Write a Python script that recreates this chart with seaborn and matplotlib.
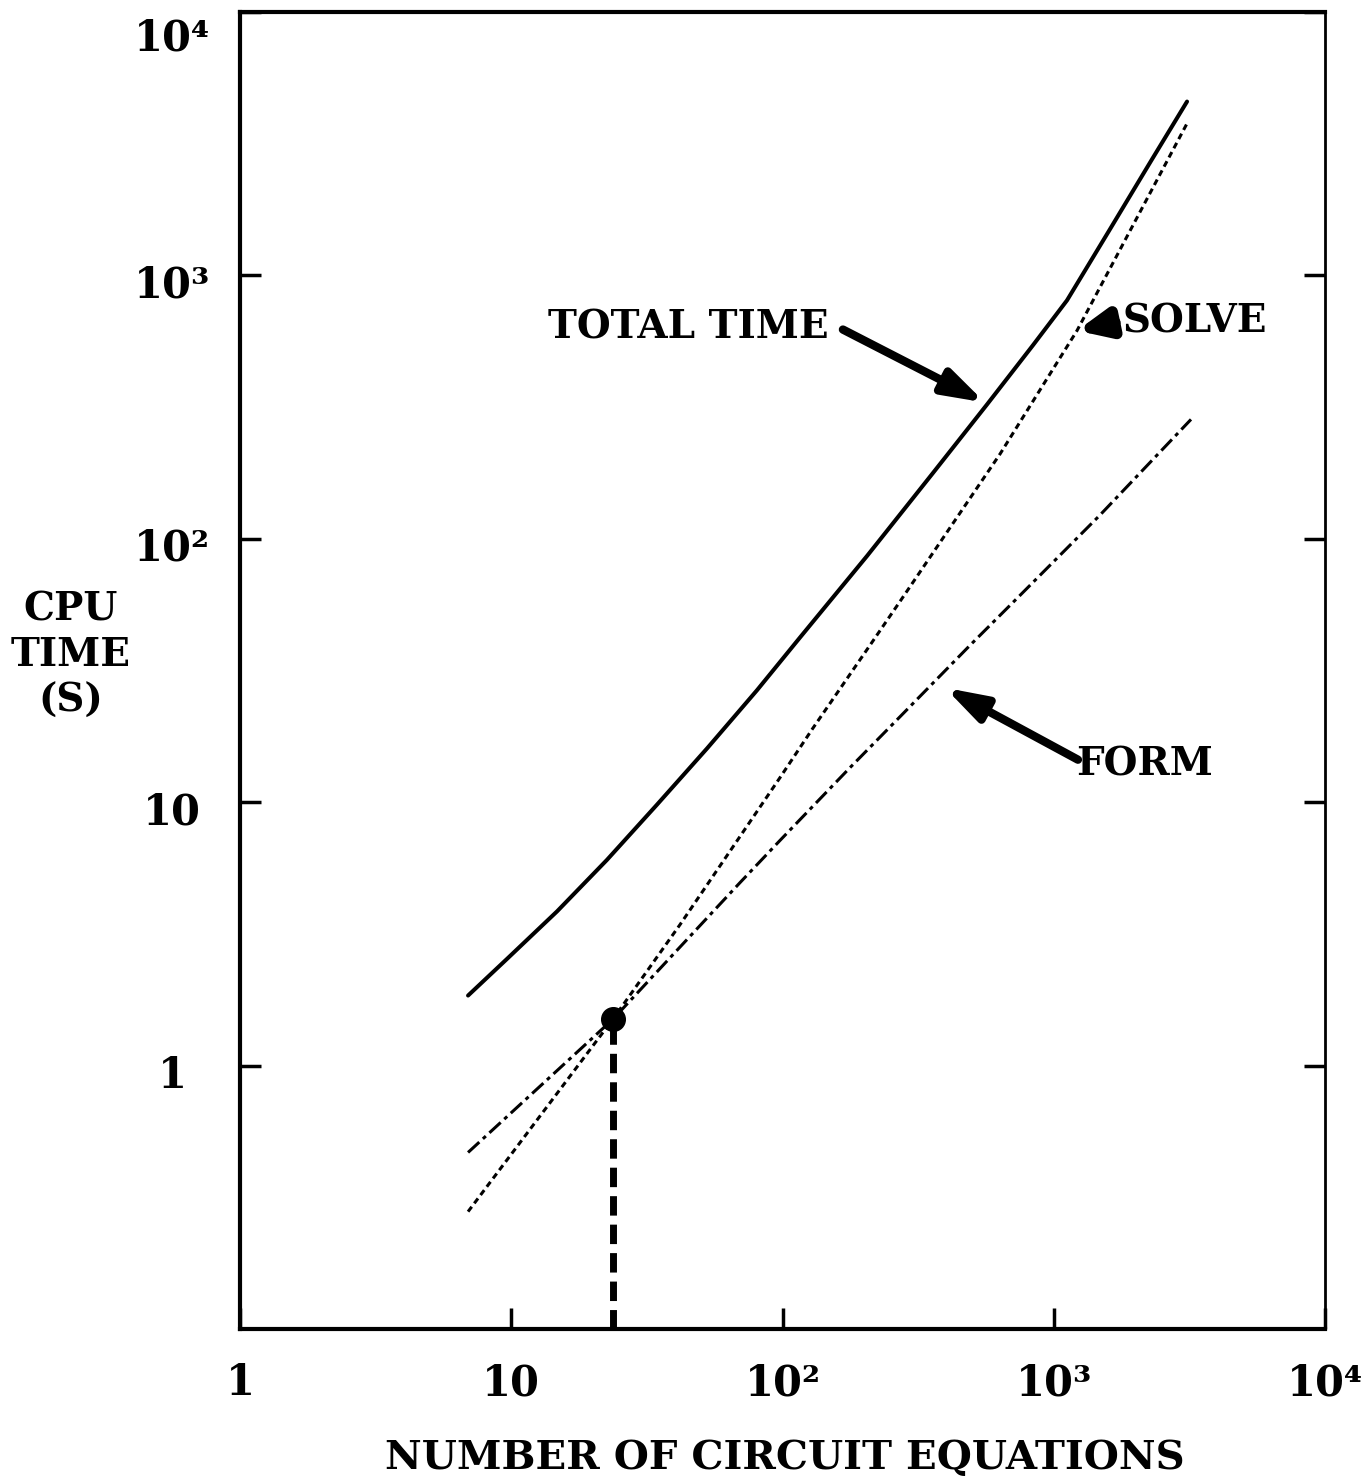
import matplotlib
matplotlib.use("Agg")
import matplotlib.pyplot as plt
from matplotlib.ticker import NullLocator, FixedLocator, FixedFormatter
from matplotlib.transforms import ScaledTranslation
import pandas as pd
import seaborn as sns

# Number of circuit equations vs. CPU time (seconds)
total_x = [6.93, 9.64, 14.75, 22.5, 34.4, 52.7, 80.5, 116, 205, 359, 568,
           838, 1119, 1600, 2300, 3100]
total_y = [1.845, 2.54, 3.85, 6.03, 9.77, 16.0, 26.6, 42.2, 86.1, 178, 324,
           543, 804, 1479, 2754, 4571]

solve_x = [6.93, 23.7, 41.9, 69.7, 97.9, 129, 210, 271, 634, 1218, 3126]
solve_y = [0.279, 1.50, 3.43, 7.41, 12.4, 19.0, 39.4, 57.8, 210, 617, 3837]

form_x = [6.93, 23.7, 41.9, 69.7, 97.9, 177, 271, 491, 751, 1480, 3206]
form_y = [0.468, 1.50, 2.82, 4.95, 7.16, 13.5, 21.1, 39.4, 61.0, 123, 284]

# crossover of the FORM and SOLVE curves
cross_x = 23.7
cross_y = 1.50

tick_values = [1, 10, 100, 1000, 10000]
tick_labels = ["1", "10", "10²", "10³", "10⁴"]

sns.set_theme(style="ticks")
plt.rcParams["font.family"] = ["DejaVu Serif"]
plt.rcParams["font.weight"] = "bold"
for key in ["text.color", "axes.labelcolor", "xtick.color", "ytick.color",
            "axes.edgecolor"]:
    plt.rcParams[key] = "black"

fig = plt.figure(figsize=(13.68, 14.83), dpi=100)
ax = fig.add_axes([0.17544, 0.10384, 0.79313, 0.88806])
ax.set_xscale("log")
ax.set_yscale("log")

total = pd.DataFrame({"n": total_x, "t": total_y})
solve = pd.DataFrame({"n": solve_x, "t": solve_y})
form = pd.DataFrame({"n": form_x, "t": form_y})

sns.lineplot(data=total, x="n", y="t", ax=ax, color="black", lw=2.9,
             solid_capstyle="round", solid_joinstyle="round")
sns.lineplot(data=solve, x="n", y="t", ax=ax, color="black", lw=2.2,
             linestyle=(0, (2.0, 1.4)))
sns.lineplot(data=form, x="n", y="t", ax=ax, color="black", lw=2.2,
             linestyle=(0, (5.0, 1.6, 1.3, 1.6)))

# crossover point and its drop line to the x axis
ax.vlines(cross_x, 0.1, cross_y * 0.92, color="black", lw=5,
          linestyles=(0, (2.8, 1.3)))
ax.plot([cross_x], [cross_y], "o", color="black", markersize=17)

ax.set_xlim(1, 1e4)
ax.set_ylim(0.1, 1e4)
ax.set_xlabel("")
ax.set_ylabel("")

ax.xaxis.set_major_locator(FixedLocator(tick_values))
ax.xaxis.set_major_formatter(FixedFormatter(tick_labels))
ax.yaxis.set_major_locator(FixedLocator(tick_values))
ax.yaxis.set_major_formatter(FixedFormatter(tick_labels))
ax.xaxis.set_minor_locator(NullLocator())
ax.yaxis.set_minor_locator(NullLocator())

ax.tick_params(axis="both", direction="in", length=15, width=2.5,
               labelsize=30, colors="black")
ax.tick_params(axis="y", right=True, pad=49)
ax.tick_params(axis="x", pad=24)
fig.canvas.draw()
shift = ScaledTranslation(0, -4 / 72, fig.dpi_scale_trans)
ylabels = ax.get_yticklabels()
for lbl in ylabels:
    lbl.set_horizontalalignment("center")
    lbl.set_fontweight("bold")
    lbl.set_transform(lbl.get_transform() + shift)
ylabels[-1].set_verticalalignment("top")
for lbl in ax.get_xticklabels():
    lbl.set_fontweight("bold")

for side in ["left", "bottom", "top"]:
    ax.spines[side].set_linewidth(3)
ax.spines["right"].set_linewidth(2)

# curve labels with pointer arrows
lab = dict(fontsize=28, fontweight="bold", ha="center", va="center")
arr = dict(arrowstyle="-|>,head_length=1.1,head_width=0.35", lw=6,
           color="black", shrinkA=0, shrinkB=0, mutation_scale=22)
arr_small = dict(arrowstyle="-|>,head_length=1.0,head_width=0.45", lw=8,
                 color="black", shrinkA=0, shrinkB=0, mutation_scale=18)

ax.text(44.8, 634, "TOTAL TIME", **lab)
ax.annotate("", xy=(558, 329), xytext=(167, 623), arrowprops=arr)

ax.text(3318, 668, "SOLVE", **lab)
ax.annotate("", xy=(1218, 617), xytext=(1683, 662), arrowprops=arr_small)

ax.text(2170, 13.9, "FORM", **lab)
ax.annotate("", xy=(397, 27.2), xytext=(1228, 14.5), arrowprops=arr)

fig.text(71 / 1368, 1 - 655 / 1483, "CPU\nTIME\n(S)", ha="center",
         va="center", fontsize=28, fontweight="bold", linespacing=1.25)
fig.text(785 / 1368, 1 - 1458 / 1483, "NUMBER OF CIRCUIT EQUATIONS",
         ha="center", va="center", fontsize=29, fontweight="bold")

fig.savefig("out.png", dpi=100, facecolor="white")
